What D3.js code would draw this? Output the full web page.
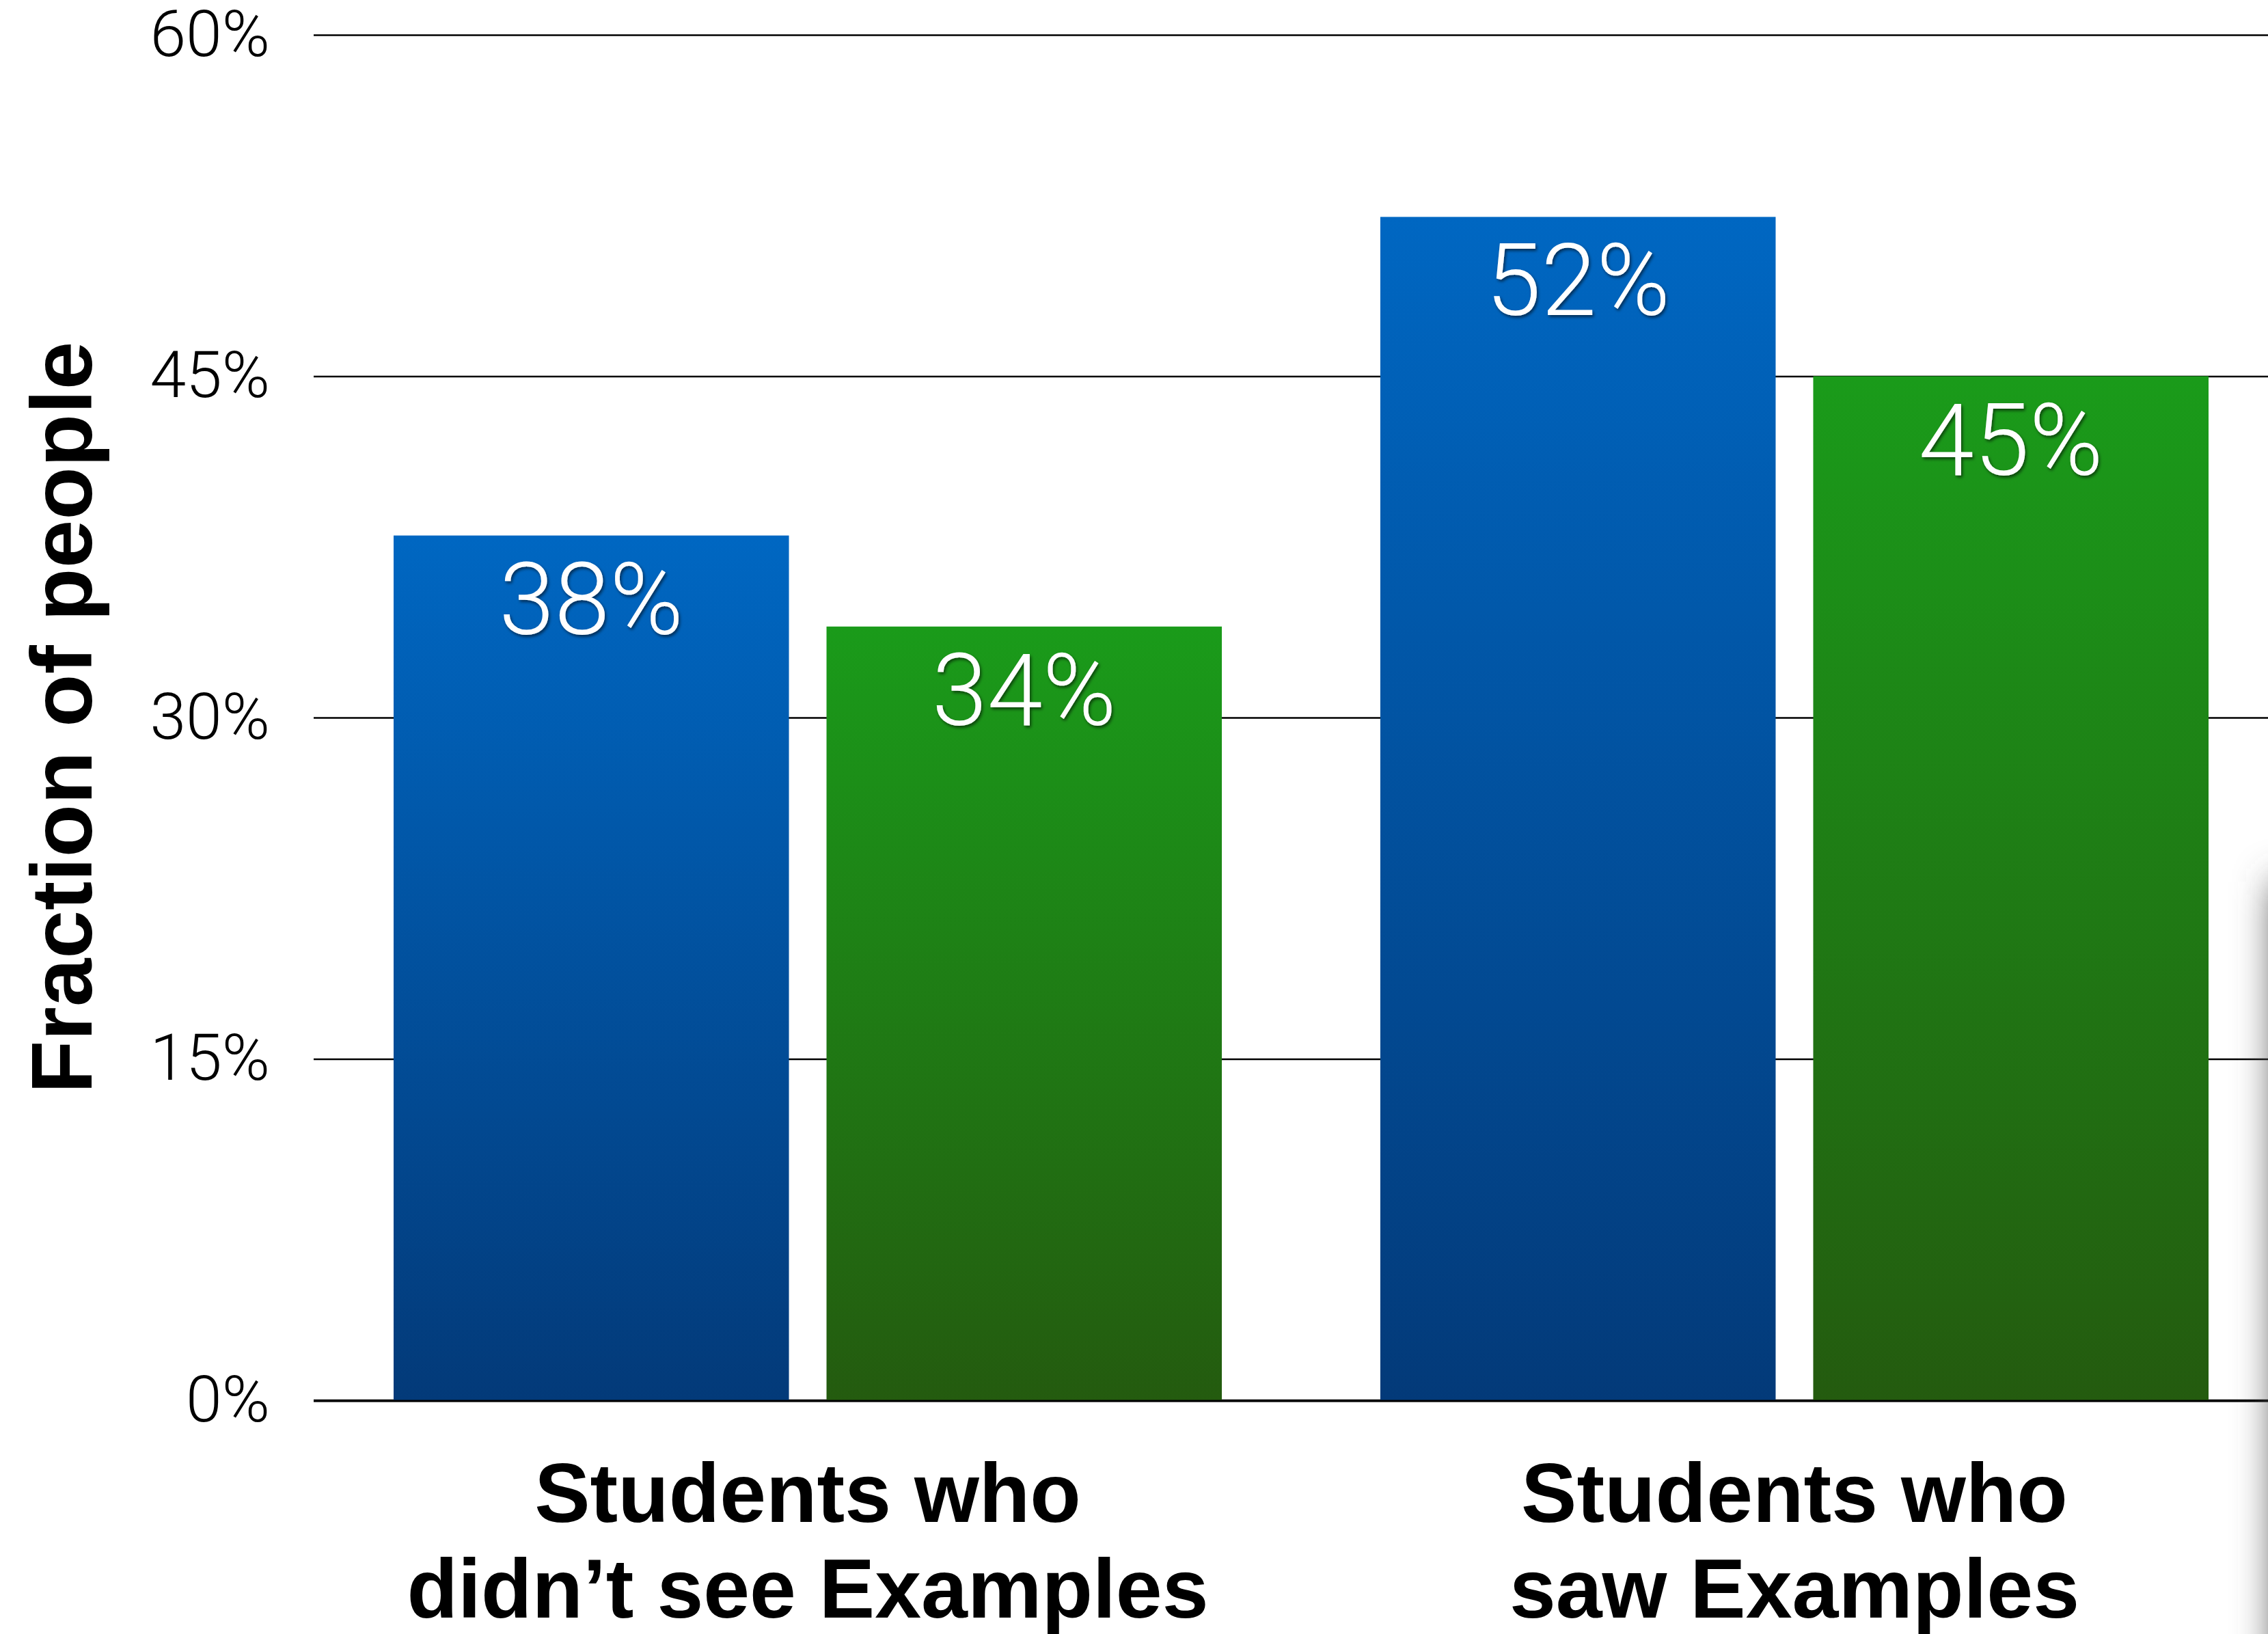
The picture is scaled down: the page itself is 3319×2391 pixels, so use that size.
<!DOCTYPE html>
<html>
<head>
<meta charset="utf-8">
<script src="https://cdn.jsdelivr.net/npm/d3@7"></script>
<style>
  html, body { margin: 0; padding: 0; background: #fff; overflow: hidden; }
</style>
</head>
<body>
<div id="chart-container"></div>
<script>
// data
const categories = [
  ['Students who', 'didn’t see Examples'],
  ['Students who', 'saw Examples']
];
const seriesKeys = ['first', 'second'];
const firstValues = [38, 52];
const secondValues = [34, 45];
const yTicks = [0, 15, 30, 45, 60];
const yTitle = 'Fraction of people';

const W = 3319, H = 2391;

const svg = d3.select('#chart-container')
  .append('svg')
  .attr('width', W)
  .attr('height', H);

const defs = svg.append('defs');

// bar gradients (per bar box, light at top, dark at bottom)
const blue = defs.append('linearGradient').attr('id', 'gBlue')
  .attr('x1', 0).attr('y1', 0).attr('x2', 0).attr('y2', 1);
blue.append('stop').attr('offset', '0%').attr('stop-color', '#0067c2');
blue.append('stop').attr('offset', '100%').attr('stop-color', '#033a79');

const green = defs.append('linearGradient').attr('id', 'gGreen')
  .attr('x1', 0).attr('y1', 0).attr('x2', 0).attr('y2', 1);
green.append('stop').attr('offset', '0%').attr('stop-color', '#1a9b1a');
green.append('stop').attr('offset', '100%').attr('stop-color', '#245b0f');

const fills = { first: 'url(#gBlue)', second: 'url(#gGreen)' };

// text shadow for value labels
const ds = defs.append('filter').attr('id', 'txtShadow')
  .attr('x', '-20%').attr('y', '-20%').attr('width', '140%').attr('height', '140%');
ds.append('feDropShadow').attr('dx', 2).attr('dy', 3).attr('stdDeviation', 2)
  .attr('flood-color', '#000').attr('flood-opacity', 0.55);

// soft shadow on the right edge
const blur = defs.append('filter').attr('id', 'edgeBlur')
  .attr('filterUnits', 'userSpaceOnUse')
  .attr('x', 3000).attr('y', 1000).attr('width', 700).attr('height', 1600);
blur.append('feGaussianBlur').attr('stdDeviation', 28);

// scales
const y = d3.scaleLinear().domain([0, 60]).range([2049, 51]);

const x0 = d3.scaleBand()
  .domain(d3.range(categories.length))
  .range([576, 3232])
  .paddingInner(0.1606)
  .paddingOuter(0);

const x1 = d3.scaleBand()
  .domain(seriesKeys)
  .range([0, x0.bandwidth()])
  .paddingInner(0.0868);

const rows = categories.map((c, i) => ({
  i,
  values: [
    { key: 'first', value: firstValues[i] },
    { key: 'second', value: secondValues[i] }
  ]
}));

// grid lines + tick labels
const yAxis = svg.append('g')
  .attr('transform', 'translate(459,0)')
  .call(d3.axisLeft(y)
    .tickValues(yTicks)
    .tickSize(-(W - 459))
    .tickPadding(64)
    .tickFormat(d => d + '%'))
  .call(g => g.select('.domain').remove());

yAxis.selectAll('.tick line')
  .attr('stroke', '#000')
  .attr('stroke-width', d => d === 0 ? 3.5 : 2.5);

yAxis.selectAll('.tick text')
  .attr('fill', '#000')
  .style('font-family', 'Roboto, "Open Sans", "Liberation Sans", sans-serif')
  .style('font-weight', 300)
  .style('font-size', '95px');

// bars
const groups = svg.append('g')
  .selectAll('g')
  .data(rows)
  .join('g')
  .attr('transform', d => `translate(${x0(d.i)},0)`);

groups.selectAll('rect')
  .data(d => d.values)
  .join('rect')
  .attr('x', d => x1(d.key))
  .attr('y', d => y(d.value))
  .attr('width', x1.bandwidth())
  .attr('height', d => y(0) - y(d.value))
  .attr('fill', d => fills[d.key]);

// value labels
groups.selectAll('text')
  .data(d => d.values)
  .join('text')
  .attr('x', d => x1(d.key) + x1.bandwidth() / 2)
  .attr('y', d => y(d.value) + 144)
  .attr('text-anchor', 'middle')
  .attr('fill', '#fff')
  .attr('filter', 'url(#txtShadow)')
  .style('font-family', 'Roboto, "Open Sans", "Liberation Sans", sans-serif')
  .style('font-weight', 300)
  .style('font-size', '146px')
  .text(d => d.value + '%');

// baseline drawn over bar bottoms
svg.append('line')
  .attr('x1', 459).attr('x2', W)
  .attr('y1', y(0) + 1).attr('y2', y(0) + 1)
  .attr('stroke', '#000')
  .attr('stroke-width', 3);

// category labels
const catLabels = svg.append('g')
  .selectAll('text')
  .data(categories)
  .join('text')
  .attr('x', (d, i) => x0(i) + x0.bandwidth() / 2)
  .attr('y', 2227)
  .attr('text-anchor', 'middle')
  .attr('fill', '#000')
  .style('font-family', '"Liberation Sans", Arial, Helvetica, sans-serif')
  .style('font-weight', 700)
  .style('font-size', '122px');

catLabels.selectAll('tspan')
  .data(d => d)
  .join('tspan')
  .attr('x', function () { return d3.select(this.parentNode).attr('x'); })
  .attr('dy', (d, i) => i === 0 ? 0 : 140)
  .text(d => d);

// y axis title
svg.append('text')
  .attr('transform', `translate(134,${(y(0) + y(60)) / 2}) rotate(-90)`)
  .attr('text-anchor', 'middle')
  .attr('fill', '#000')
  .style('font-family', '"Liberation Sans", Arial, Helvetica, sans-serif')
  .style('font-weight', 700)
  .style('font-size', '127px')
  .text(yTitle);

// edge shadow on the right
svg.append('rect')
  .attr('x', 3328).attr('y', 1290)
  .attr('width', 300).attr('height', 1400)
  .attr('fill', '#555')
  .attr('filter', 'url(#edgeBlur)');
</script>
</body>
</html>
